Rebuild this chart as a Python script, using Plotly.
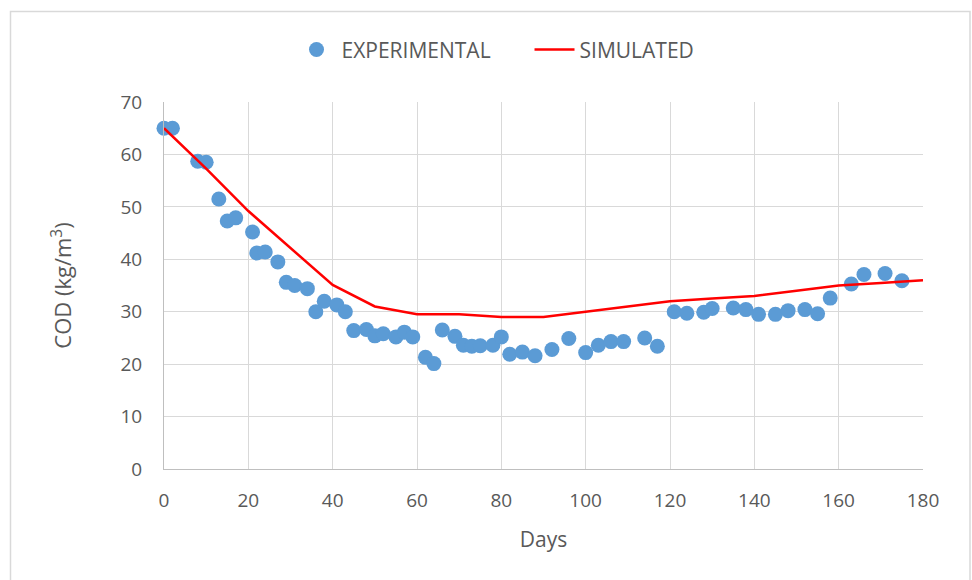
import plotly.graph_objects as go

exp_days = [0, 2, 8, 10, 13, 15, 17, 21, 22, 24, 27, 29, 31, 34, 36, 38, 41, 43, 45, 48,
            50, 52, 55, 57, 59, 62, 64, 66, 69, 71, 73, 75, 78, 80, 82, 85, 88, 92, 96, 100,
            103, 106, 109, 114, 117, 121, 124, 128, 130, 135, 138, 141, 145, 148, 152, 155,
            158, 163, 166, 171, 175]
exp_cod = [65.0, 65.0, 58.7, 58.5, 51.5, 47.3, 47.9, 45.2, 41.2, 41.4, 39.5, 35.6, 35.0, 34.4,
           30.0, 32.0, 31.3, 30.0, 26.4, 26.6, 25.4, 25.8, 25.2, 26.1, 25.2, 21.3, 20.1, 26.5,
           25.3, 23.6, 23.4, 23.5, 23.6, 25.2, 21.9, 22.3, 21.6, 22.8, 24.9, 22.2, 23.6, 24.3,
           24.3, 25.0, 23.4, 30.0, 29.7, 29.9, 30.6, 30.7, 30.4, 29.5, 29.5, 30.2, 30.4, 29.6,
           32.6, 35.3, 37.1, 37.3, 35.9]

sim_days = [0, 10, 20, 30, 40, 50, 60, 70, 80, 90, 100, 110, 120, 130, 140, 150, 160, 170, 180]
sim_cod = [65, 57.3, 49.2, 42.2, 35.1, 31.0, 29.5, 29.5, 29.0, 29.0, 30.0, 31.0, 32.0, 32.5,
           33.0, 34.0, 35.0, 35.5, 36.0]

x_ticks = [0, 20, 40, 60, 80, 100, 120, 140, 160, 180]
y_ticks = [0, 10, 20, 30, 40, 50, 60, 70]

FONT = "Open Sans"
GRAY = "#595959"

fig = go.Figure()
fig.add_trace(go.Scatter(
    x=exp_days, y=exp_cod, mode="markers", name="EXPERIMENTAL",
    marker=dict(color="#5b9bd5", size=15, line=dict(width=0)),
    cliponaxis=False,
))
fig.add_trace(go.Scatter(
    x=sim_days, y=sim_cod, mode="lines", name="SIMULATED",
    line=dict(color="#ff0000", width=2.5),
    cliponaxis=False,
))

fig.update_layout(
    width=972, height=580,
    margin=dict(l=164, r=49, t=102, b=111),
    paper_bgcolor="white", plot_bgcolor="white",
    font=dict(family=FONT, color=GRAY, size=19),
    showlegend=True,
    legend=dict(orientation="h", x=0.168, y=1.142, xanchor="left", yanchor="middle",
                font=dict(size=21, color=GRAY), itemwidth=40, traceorder="normal",
                entrywidth=183, entrywidthmode="pixels"),
    xaxis=dict(range=[0, 180], tickvals=x_ticks, showgrid=True, gridcolor="#d9d9d9",
               gridwidth=1, zeroline=False, showline=True, linecolor="#bfbfbf", linewidth=1,
               ticks="outside", ticklen=14, tickcolor="rgba(0,0,0,0)",
               tickfont=dict(size=19, color=GRAY),
               title=dict(text="Days", font=dict(size=21, color=GRAY), standoff=20)),
    yaxis=dict(range=[0, 70], tickvals=y_ticks, showgrid=True, gridcolor="#d9d9d9",
               gridwidth=1, zeroline=False, showline=True, linecolor="#bfbfbf", linewidth=1,
               ticks="outside", ticklen=17, tickcolor="rgba(0,0,0,0)",
               tickfont=dict(size=19, color=GRAY),
               title=dict(text="COD (kg/m<sup>3</sup>)", font=dict(size=22, color=GRAY),
                          standoff=42)),
    shapes=[dict(type="rect", xref="paper", yref="paper",
                 x0=(10.5 - 164) / 759, x1=(970 - 164) / 759,
                 y0=(469 - 600) / 367, y1=(469 - 11.5) / 367,
                 line=dict(color="#d9d9d9", width=1.5), layer="below")],
)

fig.write_html("out.html", config={"displayModeBar": False},
               post_script="document.body.style.margin='0';document.body.style.padding='0';")
